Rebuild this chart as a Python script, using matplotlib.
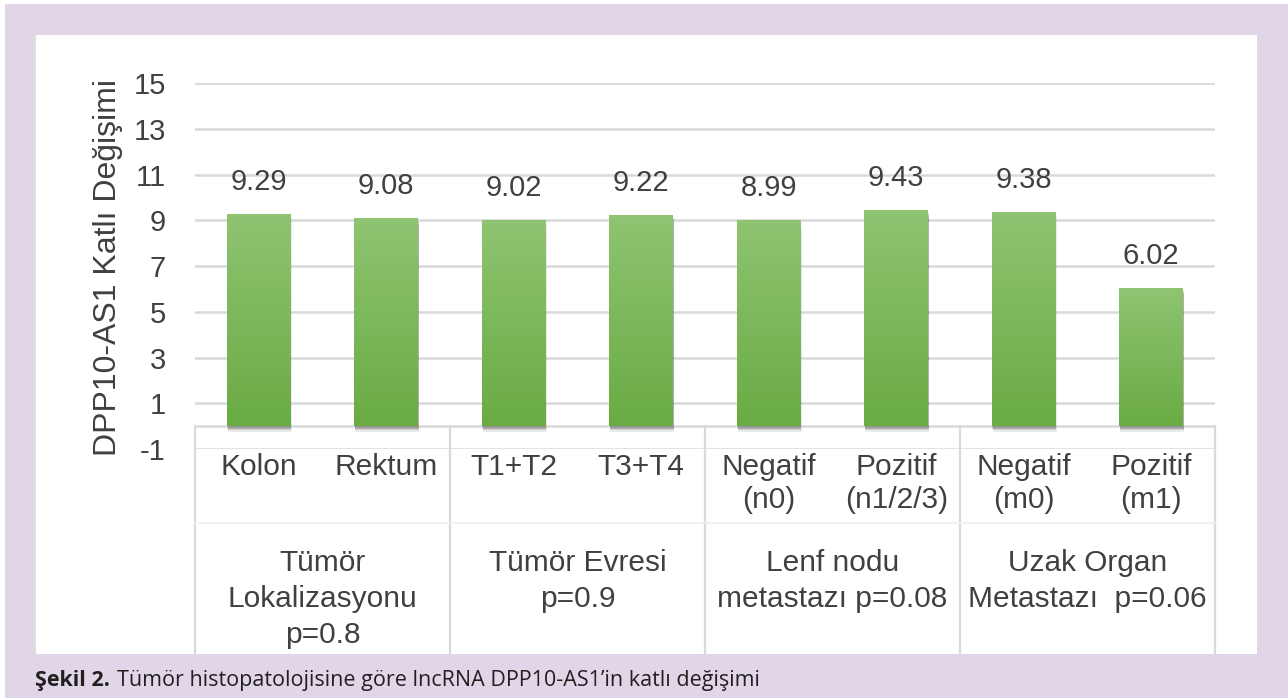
import numpy as np
import matplotlib
matplotlib.use("Agg")
import matplotlib.pyplot as plt
from matplotlib.patches import Rectangle
from matplotlib import patheffects as pe
import matplotlib.transforms as mtransforms
from matplotlib.colors import LinearSegmentedColormap

# ---------------- data ----------------
categories = ["Kolon", "Rektum", "T1+T2", "T3+T4", "Negatif\n(n0)",
              "Pozitif\n(n1/2/3)", "Negatif\n(m0)", "Pozitif\n(m1)"]
values = [9.29, 9.08, 9.02, 9.22, 8.99, 9.43, 9.38, 6.02]
value_labels = ["9.29", "9.08", "9.02", "9.22", "8.99", "9.43", "9.38", "6.02"]
groups = ["Tümör\nLokalizasyonu\np=0.8", "Tümör Evresi\np=0.9",
          "Lenf nodu\nmetastazı p=0.08", "Uzak Organ\nMetastazı  p=0.06"]
group_sizes = [2, 2, 2, 2]
y_ticks = [-1, 1, 3, 5, 7, 9, 11, 13, 15]
y_label = "DPP10-AS1 Katlı Değişimi"
caption_bold = "Şekil 2."
caption_text = "Tümör histopatolojisine göre lncRNA DPP10-AS1’in katlı değişimi"

# ---------------- style ----------------
W, H = 1288, 698
FONT = "Liberation Sans"
TXT = "#404040"
GRID = "#d9d9d9"
LAV = "#e1d6e7"

fig = plt.figure(figsize=(W / 100, H / 100), dpi=100)
fig.patch.set_facecolor("white")

def px(x0, y0, x1, y1):
    return (x0 / W, 1 - y1 / H, (x1 - x0) / W, (y1 - y0) / H)

# lavender frame + white panel
x, y, w, h = px(5, 4, W, H)
fig.add_artist(Rectangle((x, y), w, h, transform=fig.transFigure,
                         facecolor=LAV, edgecolor="none", zorder=0))
x, y, w, h = px(34, 35, 1257, 654)
fig.add_artist(Rectangle((x, y), w, h, transform=fig.transFigure,
                         facecolor="white", edgecolor="none", zorder=0.5))
fig.add_artist(plt.Line2D([34.5 / W, 34.5 / W], [1 - 654 / H, 1 - 35 / H],
                          transform=fig.transFigure, color="#d8d8d8", lw=1.2, zorder=0.6))

# axes
ax_l, ax_b, ax_w, ax_h = px(195, 83, 1215, 449)
ax = fig.add_axes([ax_l, ax_b, ax_w, ax_h])
ax.set_zorder(2)
ax.set_facecolor("none")
n = len(categories)
xpos = np.arange(n)
for s in ax.spines.values():
    s.set_visible(False)
ax.set_yticks(y_ticks)
ax.set_yticklabels([str(t) for t in y_ticks], fontsize=21, color=TXT, family=FONT)
ax.tick_params(axis="y", length=0, pad=21)
ax.set_xticks([])
ax.yaxis.grid(True, color=GRID, lw=1.8)
ax.set_axisbelow(True)

# horizontal axis line at 0
ax.axhline(0, color=GRID, lw=1.8, zorder=1)

# bars with gradient and soft shadow
bars = ax.bar(xpos, values, width=0.5, color="#7cb855", edgecolor="none", zorder=3)
shadow = [pe.SimplePatchShadow(offset=(0.8, -4.0), shadow_rgbFace="black", alpha=0.08),
          pe.SimplePatchShadow(offset=(0.5, -3.0), shadow_rgbFace="black", alpha=0.12),
          pe.SimplePatchShadow(offset=(0.3, -1.8), shadow_rgbFace="black", alpha=0.14),
          pe.Normal()]
grad = np.linspace(0, 1, 256).reshape(-1, 1)
cmap = LinearSegmentedColormap.from_list("g", ["#6aab43", "#8fc472"])
for b in bars:
    b.set_path_effects(shadow)
    bx, by = b.get_x(), b.get_y()
    bw, bh = b.get_width(), b.get_height()
    im = ax.imshow(grad, extent=(bx, bx + bw, by, by + bh), origin="lower",
                   cmap=cmap, aspect="auto", zorder=3.5, interpolation="bicubic")
    im.set_clip_path(b)
ax.set_xlim(-0.5, n - 0.5)
ax.set_ylim(-1, 15)

# value labels
for xi, v, lab in zip(xpos, values, value_labels):
    ax.annotate(lab, (xi, v), xytext=(0, 32), textcoords="offset pixels",
                ha="center", va="center", fontsize=21, color=TXT, family=FONT)

# category table below
trans = mtransforms.blended_transform_factory(ax.transData, ax.transAxes)
def afrac(ypx):
    return (449 - ypx) / 366.0

y_top = afrac(426)
y_bot = afrac(654)
bounds = np.concatenate([[0], np.cumsum(group_sizes)]) - 0.5
for bx in bounds:
    ax.plot([bx, bx], [y_top, y_bot], transform=trans, color=GRID, lw=1.6,
            clip_on=False, zorder=1)
ax.plot([-0.5, n - 0.5], [afrac(523), afrac(523)], transform=trans,
        color="#f0f0f0", lw=1.2, clip_on=False, zorder=1)

for xi, lab in zip(xpos, categories):
    for i, line in enumerate(lab.split("\n")):
        ax.text(xi, afrac(467 + 33 * i), line, transform=trans, ha="center",
                va="center", fontsize=21.5, color=TXT, family=FONT)

centers = (bounds[:-1] + bounds[1:]) / 2
for cx, lab in zip(centers, groups):
    for i, line in enumerate(lab.split("\n")):
        ax.text(cx, afrac(563 + 36 * i), line, transform=trans, ha="center",
                va="center", fontsize=21.5, color=TXT, family=FONT)

# y label
fig.text(108 / W, 1 - 268 / H, y_label, rotation=90, ha="center", va="center",
         fontsize=23, color=TXT, family=FONT, zorder=3)

# caption
t1 = fig.text(35 / W, 1 - 686 / H, caption_bold, ha="left", va="baseline",
              fontsize=15.5, fontweight="bold", color="#231f20", family="Open Sans", zorder=3)
fig.canvas.draw()
bb = t1.get_window_extent()
fig.text((bb.x1 + 7) / W, 1 - 686 / H, caption_text, ha="left", va="baseline",
         fontsize=15.5, color="#231f20", family="Open Sans", zorder=3)

fig.savefig("out.png", dpi=100, facecolor=fig.get_facecolor())
